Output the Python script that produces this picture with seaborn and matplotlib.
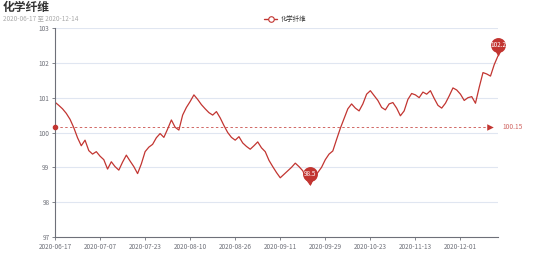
import matplotlib
matplotlib.use("Agg")
import matplotlib.pyplot as plt
import matplotlib.transforms as mtrans
from matplotlib.lines import Line2D
import seaborn as sns
import numpy as np
import pandas as pd

title = "化学纤维"
subtitle = "2020-06-17 至 2020-12-14"
series_name = "化学纤维"
tick_labels = ["2020-06-17", "2020-07-07", "2020-07-23", "2020-08-10", "2020-08-26",
               "2020-09-11", "2020-09-29", "2020-10-23", "2020-11-13", "2020-12-01"]
tick_every = 12
values = [
    100.87, 100.78, 100.68, 100.55, 100.38, 100.14, 99.85, 99.62, 99.78, 99.48,
    99.38, 99.45, 99.32, 99.22, 98.95, 99.16, 99.02, 98.92, 99.15, 99.35,
    99.18, 99.02, 98.82, 99.10, 99.45, 99.58, 99.66, 99.85, 99.97, 99.86,
    100.10, 100.36, 100.15, 100.07, 100.50, 100.72, 100.89, 101.08, 100.95, 100.80,
    100.68, 100.57, 100.50, 100.60, 100.42, 100.20, 100.00, 99.86, 99.78, 99.88,
    99.70, 99.60, 99.52, 99.62, 99.73, 99.56, 99.45, 99.20, 99.02, 98.85,
    98.70, 98.80, 98.90, 99.00, 99.12, 99.02, 98.90, 98.65, 98.50, 98.72,
    98.85, 99.00, 99.22, 99.38, 99.47, 99.80, 100.12, 100.40, 100.68, 100.82,
    100.70, 100.62, 100.82, 101.10, 101.20, 101.06, 100.92, 100.72, 100.65, 100.82,
    100.86, 100.70, 100.48, 100.62, 100.95, 101.12, 101.08, 101.00, 101.16, 101.10,
    101.20, 100.98, 100.78, 100.70, 100.84, 101.05, 101.28, 101.22, 101.10, 100.92,
    101.00, 101.03, 100.84, 101.30, 101.72, 101.68, 101.62, 101.95, 102.20,
]
average_value = 100.15
average_label = "100.15"
y_ticks = [97, 98, 99, 100, 101, 102, 103]

RED = "#c23531"
GRAY = "#6E7079"
GRID = "#E0E6F1"

sns.set_theme(style="white")
plt.rcParams['font.family'] = ['Noto Sans CJK SC', 'DejaVu Sans']

W, H = 554, 265
fig = plt.figure(figsize=(W / 100, H / 100), dpi=100)
ax = fig.add_axes([55 / W, (H - 237) / H, 443 / W, 209 / H])

df = pd.DataFrame({"idx": range(len(values)), "value": values})
sns.lineplot(data=df, x="idx", y="value", ax=ax, color=RED, linewidth=0.9, legend=False)

n = len(values)
ax.set_xlim(0, n - 1)
ax.set_ylim(y_ticks[0], y_ticks[-1])
ax.set_xlabel("")
ax.set_ylabel("")

ax.set_yticks(y_ticks)
ax.set_yticklabels([str(t) for t in y_ticks])
for t in y_ticks[1:]:
    ax.axhline(t, color=GRID, linewidth=0.8, zorder=0)

xt = list(range(0, n, tick_every))[:len(tick_labels)]
ax.set_xticks(xt)
ax.set_xticklabels(tick_labels)

for s in ["top", "right"]:
    ax.spines[s].set_visible(False)
for s in ["left", "bottom"]:
    ax.spines[s].set_color(GRAY)
    ax.spines[s].set_linewidth(0.8)
ax.tick_params(axis="both", colors=GRAY, labelsize=4.6, length=2.5, width=0.6, pad=1.5,
               bottom=True, left=True)
ax.grid(False)

# average line
end_x = (490 - 55) / 443 * (n - 1)
ax.plot([0, end_x], [average_value, average_value], color=RED, linestyle=(0, (2.5, 2.5)),
        linewidth=0.7, clip_on=False, zorder=3, alpha=0.75)
ax.scatter([0], [average_value], s=9, color=RED, zorder=4, clip_on=False, marker="o")
ax.scatter([end_x], [average_value], s=22, color=RED, zorder=4, clip_on=False, marker=">",
           linewidths=0)
ax.text(end_x + 3.2, average_value, average_label, color=RED, fontsize=4.8, va="center",
        ha="left", alpha=0.75, clip_on=False)

# min / max pins
imin = int(np.argmin(values))
imax = int(np.argmax(values))
for i in (imin, imax):
    v = values[i]
    circ_tr = mtrans.offset_copy(ax.transData, fig=fig, x=0, y=11, units="dots")
    tri_tr = mtrans.offset_copy(ax.transData, fig=fig, x=0, y=4, units="dots")
    ax.scatter([i], [v], s=42, marker="v", color=RED, transform=tri_tr, zorder=5,
               clip_on=False, linewidths=0)
    ax.scatter([i], [v], s=115, marker="o", color=RED, transform=circ_tr, zorder=5,
               clip_on=False, linewidths=0)
    ax.text(i, v, f"{v:.1f}", transform=circ_tr, color="white", fontsize=4.6,
            ha="center", va="center", zorder=6)

# titles
fig.text(3 / W, 1 - 8 / H, title, fontsize=8.5, fontweight="bold", color="#333333",
         ha="left", va="center")
fig.text(3 / W, 1 - 18 / H, subtitle, fontsize=4.6, color="#aaaaaa", ha="left", va="center")

# legend
handle = Line2D([0], [0], color=RED, linewidth=1.0, marker="o", markersize=4,
                markerfacecolor="white", markeredgecolor=RED, markeredgewidth=0.8)
fig.legend([handle], [series_name], loc="center", bbox_to_anchor=(285 / W, 1 - 19 / H),
           frameon=False, fontsize=4.6, handlelength=2.0, handletextpad=0.5,
           labelcolor="#333333")

fig.savefig("out.png", dpi=100)
